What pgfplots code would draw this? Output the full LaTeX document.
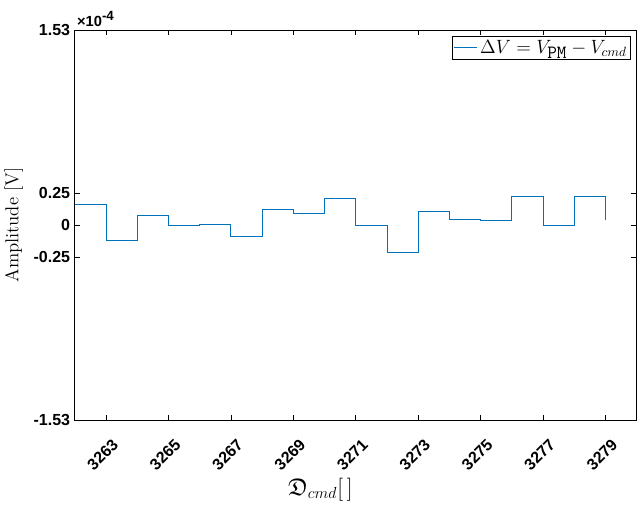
\documentclass[border=0pt]{standalone}
\usepackage{amssymb}
\usepackage{fontspec}
\newfontfamily\tickfont{Liberation Sans}
\usepackage{pgfplots}
\pgfplotsset{compat=1.18}
\definecolor{mblue}{rgb}{0,0.447,0.741}
\begin{document}
\begin{tikzpicture}
\begin{axis}[
  name=ax,
  scale only axis,
  clip mode=individual,
  width=421pt, height=292.5pt,
  xmin=3262, xmax=3280,
  ymin=-1.53, ymax=1.53,
  xtick={3263,3265,3267,3269,3271,3273,3275,3277,3279},
  xticklabels={3263,3265,3267,3269,3271,3273,3275,3277,3279},
  ytick={-1.53,-0.25,0,0.25,1.53},
  yticklabels={-1.53,-0.25,0,0.25,1.53},
  /pgf/number format/assume math mode=true,
  ticklabel style={font=\tickfont\bfseries\fontsize{12}{14}\selectfont},
  xticklabel style={rotate=45, anchor=north east, inner sep=0pt, xshift=-6.5pt, yshift=-12pt},
  tick align=inside,
  major tick length=4pt,
  axis line style={line width=0.6pt},
  tick style={line width=0.5pt, black},
  xlabel={$\mathfrak{D}_{cmd}[\,]$},
  ylabel={Amplitude [V]},
  xlabel style={font=\fontsize{18}{21}\selectfont, at={(axis description cs:0.437,0)}, anchor=north, inner sep=0pt, yshift=-43pt},
  ylabel style={font=\fontsize{14}{16}\selectfont, yshift=1pt},
  legend style={at={(0.99,0.985)}, anchor=north east, draw=black, font=\fontsize{14}{16}\selectfont, inner sep=1pt, row sep=0pt},
  legend cell align=left,
]
\addplot[const plot, color=mblue, line width=0.6pt] coordinates {
 (3262,0.162) (3263,-0.120) (3264,0.073) (3265,0.000) (3266,0.005)
 (3267,-0.086) (3268,0.123) (3269,0.089) (3270,0.206) (3271,0.000)
 (3272,-0.212) (3273,0.107) (3274,0.042) (3275,0.039) (3276,0.222)
 (3277,-0.003) (3278,0.228) (3279,0.037)
};
\addlegendentry{$\Delta V = V_{\texttt{PM}} - V_{cmd}$}
\node[anchor=south west, inner sep=0pt, xshift=1.5pt, yshift=2pt, font=\tickfont\bfseries\fontsize{11}{13}\selectfont] at (rel axis cs:0,1) {×10\raisebox{4.5pt}{\fontsize{10}{12}\selectfont -4}};
\end{axis}
\path ([yshift=22.5pt]ax.north west);
\path ([yshift=-66pt]ax.south east);
\end{tikzpicture}
\end{document}
